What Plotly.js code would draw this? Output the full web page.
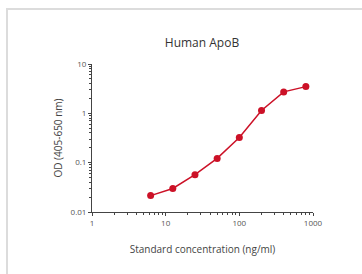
<!DOCTYPE html>
<html>
<head>
<meta charset="utf-8">
<script src="https://cdn.plot.ly/plotly-3.0.1.min.js"></script>
<style>
html,body{margin:0;padding:0;background:#fff;}
#frame{position:absolute;left:6px;top:8px;width:400px;height:300px;border-left:2px solid #dcdcdc;border-top:2px solid #dcdcdc;}
#chart{position:absolute;left:0;top:0;width:362px;height:274px;}
</style>
</head>
<body>
<div id="chart"></div>
<div id="frame"></div>
<script>
var concentration = [6.25, 12.5, 25, 50, 100, 200, 400, 800];
var od = [0.0215, 0.030, 0.057, 0.122, 0.324, 1.14, 2.72, 3.48];
var xTickVals = [1, 10, 100, 1000];
var xTickText = ['1', '10', '100', '1000'];
var yTickVals = [0.01, 0.1, 1, 10];
var yTickText = ['0.01', '0.1', '1', '10'];

var trace = {
  x: concentration, y: od, type: 'scatter', mode: 'lines+markers',
  line: {color: '#cc1127', width: 1.5},
  marker: {color: '#cc1127', size: 7},
  hoverinfo: 'none'
};
var fam = 'Open Sans, Arial, sans-serif';
var axisFont = {family: fam, size: 8, color: '#555'};
var layout = {
  width: 362, height: 274,
  margin: {l: 92, r: 49, t: 64, b: 62},
  paper_bgcolor: 'rgba(0,0,0,0)', plot_bgcolor: 'rgba(0,0,0,0)',
  showlegend: false,
  title: {text: 'Human ApoB', font: {family: fam, size: 12, color: '#333'}, x: 0.558, xanchor: 'center', y: 0.843, yanchor: 'middle'},
  xaxis: {
    type: 'log', range: [0, 3], showgrid: false, zeroline: false,
    showline: true, linecolor: '#444', linewidth: 1,
    ticks: 'outside', ticklen: 3, tickcolor: '#444',
    tickvals: xTickVals, ticktext: xTickText, tickfont: axisFont,
    minor: {ticks: 'outside', ticklen: 2, tickcolor: '#444', dtick: 'D1', showgrid: false},
    title: {text: 'Standard concentration (ng/ml)', font: {family: fam, size: 10, color: '#444'}, standoff: 19}
  },
  yaxis: {
    type: 'log', range: [-2, 1], showgrid: false, zeroline: false,
    showline: true, linecolor: '#444', linewidth: 1,
    ticks: 'outside', ticklen: 3, tickcolor: '#444',
    tickvals: yTickVals, ticktext: yTickText, tickfont: axisFont,
    minor: {ticks: 'outside', ticklen: 2, tickcolor: '#444', dtick: 'D1', showgrid: false},
    title: {text: 'OD (405-650 nm)', font: {family: fam, size: 10, color: '#444'}, standoff: 6}
  }
};
Plotly.newPlot('chart', [trace], layout, {displayModeBar: false, staticPlot: true});
</script>
</body>
</html>
